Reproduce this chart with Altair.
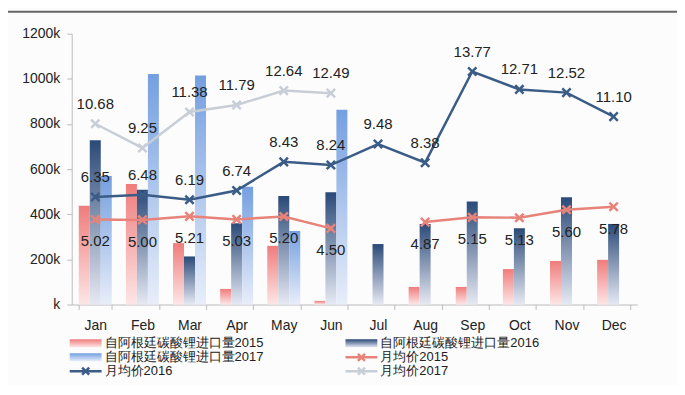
import altair as alt
import pandas as pd

months = ["Jan", "Feb", "Mar", "Apr", "May", "Jun", "Jul", "Aug", "Sep", "Oct", "Nov", "Dec"]
imp_2015 = [438000, 534000, 272000, 69000, 260000, 16000, None, 78000, 78000, 157000, 193000, 198000]
imp_2016 = [728000, 509000, 213000, 360000, 481000, 497000, 268000, 357000, 456000, 338000, 475000, 357000]
imp_2017 = [569000, 1022000, 1015000, 522000, 326000, 863000, None, None, None, None, None, None]
price_2015 = [5.02, 5.00, 5.21, 5.03, 5.20, 4.50, None, 4.87, 5.15, 5.13, 5.60, 5.78]
price_2016 = [6.35, 6.48, 6.19, 6.74, 8.43, 8.24, 9.48, 8.38, 13.77, 12.71, 12.52, 11.10]
price_2017 = [10.68, 9.25, 11.38, 11.79, 12.64, 12.49, None, None, None, None, None, None]

legend_labels = ["自阿根廷碳酸锂进口量2015", "自阿根廷碳酸锂进口量2016", "自阿根廷碳酸锂进口量2017",
                 "月均价2015", "月均价2016", "月均价2017"]

FONT = "Liberation Sans"
W, H = 568, 272

bars = []
for s, vals in (("2015", imp_2015), ("2016", imp_2016), ("2017", imp_2017)):
    for m, v in zip(months, vals):
        if v is not None:
            bars.append({"month": m, "series": s, "value": v})
bar_df = pd.DataFrame(bars)

def price_df(vals):
    rows = []
    seg = 0
    for m, v in zip(months, vals):
        if v is None:
            seg += 1
            continue
        rows.append({"month": m, "price": v, "seg": seg})
    return pd.DataFrame(rows)

xscale = alt.Scale(domain=months, paddingInner=0.3, paddingOuter=0.15)
xenc = alt.X("month:N", scale=xscale, sort=months,
             axis=alt.Axis(title=None, labelFont=FONT, labelFontSize=14, labelColor="#222",
                           labelAngle=0, domainColor="#bbb", tickColor="#bbb", tickBand="extent",
                           tickSize=5, labelPadding=9))

ybar = alt.Y("value:Q", scale=alt.Scale(domain=[0, 1200000], nice=False),
             axis=alt.Axis(title=None, values=list(range(0, 1200001, 200000)),
                           labelExpr="datum.value == 0 ? 'k' : (datum.value/1000) + 'k'",
                           labelFont=FONT, labelFontSize=14, labelColor="#222",
                           domainColor="#bbb", tickColor="#bbb", tickSize=5, labelPadding=7,
                           grid=False))

grads = {
    "2015": ("#f07c7c", "#fde6e6"),
    "2016": ("#2b4a78", "#e6e9f3"),
    "2017": ("#749fe0", "#e8eefa"),
}

def grad(top, bottom):
    return alt.Gradient(gradient="linear", stops=[alt.GradientStop(color=top, offset=0),
                                                    alt.GradientStop(color=bottom, offset=1)],
                        x1=0, x2=0, y1=0, y2=1)

bar_layers = []
for s in ("2015", "2016", "2017"):
    bar_layers.append(
        alt.Chart(bar_df).transform_filter(alt.datum.series == s)
        .mark_bar(color=grad(*grads[s]))
        .encode(x=xenc, y=ybar,
                xOffset=alt.XOffset("series:N", scale=alt.Scale(domain=["2015", "2016", "2017"], paddingInner=0)))
    )
bars_chart = alt.layer(*bar_layers)

yprice_scale = alt.Scale(domain=[0, 16], nice=False)
yprice_axis = alt.Axis(title=None, orient="right", values=list(range(0, 17, 2)),
                       labelFont=FONT, labelFontSize=14, labelColor="#222",
                       domainColor="#bbb", tickColor="#bbb", tickSize=5, labelPadding=7, grid=False)

XSHAPE = "M-1,-1L1,1M1,-1L-1,1"
line_cfg = [
    ("2015", price_2015, "#e8837a", 22),
    ("2016", price_2016, "#3a5c86", -20),
    ("2017", price_2017, "#c8ced8", -20),
]
price_layers = []
for i, (s, vals, col, dy) in enumerate(line_cfg):
    df = price_df(vals)
    yenc = alt.Y("price:Q", scale=yprice_scale, axis=yprice_axis if i == 0 else None)
    base = alt.Chart(df).encode(x=xenc, y=yenc)
    price_layers.append(base.mark_line(color=col, strokeWidth=2.5).encode(detail="seg:N"))
    price_layers.append(base.mark_point(shape=XSHAPE, filled=False, color=col, strokeWidth=2.5, size=70, opacity=1))
    price_layers.append(base.mark_text(font=FONT, fontSize=15, color="#222", dy=dy)
                        .encode(text=alt.Text("price:Q", format=".2f")))
prices_chart = alt.layer(*price_layers)

one = pd.DataFrame({"a": [0]})
# top rule decoration
top_rule = alt.Chart(one).mark_rule(color="#666", strokeWidth=2).encode(
    x=alt.value(-64), x2=alt.value(W + 40), y=alt.value(-22))

# manual legend
leg_rows = [
    (legend_labels[0], -2, 311, "bar", "2015"),
    (legend_labels[1], 275, 311, "bar", "2016"),
    (legend_labels[2], -2, 325, "bar", "2017"),
    (legend_labels[3], 275, 325, "line", "#e8837a"),
    (legend_labels[4], -2, 339, "line", "#3a5c86"),
    (legend_labels[5], 275, 339, "line", "#c8ced8"),
]
leg_layers = []
for label, lx, ly, kind, key in leg_rows:
    if kind == "bar":
        top, bottom = grads[key]
        leg_layers.append(alt.Chart(one).mark_rect(color=grad(top, bottom)).encode(
            x=alt.value(lx), x2=alt.value(lx + 32), y=alt.value(ly - 4), y2=alt.value(ly + 4)))
    else:
        leg_layers.append(alt.Chart(one).mark_rule(color=key, strokeWidth=2.5).encode(
            x=alt.value(lx), x2=alt.value(lx + 32), y=alt.value(ly)))
        leg_layers.append(alt.Chart(one).mark_point(shape=XSHAPE, filled=False, color=key,
                                                    strokeWidth=2.5, size=50, opacity=1).encode(
            x=alt.value(lx + 16), y=alt.value(ly)))
    leg_layers.append(alt.Chart(pd.DataFrame({"t": [label]})).mark_text(
        font=FONT, fontSize=13, color="#222", align="left", baseline="middle").encode(
        x=alt.value(lx + 35), y=alt.value(ly), text="t:N"))

chart = alt.layer(bars_chart, prices_chart, top_rule, *leg_layers).resolve_scale(
    y="independent", xOffset="independent"
).properties(
    width=W, height=H, autosize=alt.AutoSizeParams(type="none"),
    padding={"left": 64, "top": 25, "right": 40, "bottom": 80},
    background="#fcfcfc"
).configure_view(stroke=None)

chart.save("out.html", embed_options={"renderer": "svg", "actions": False})
